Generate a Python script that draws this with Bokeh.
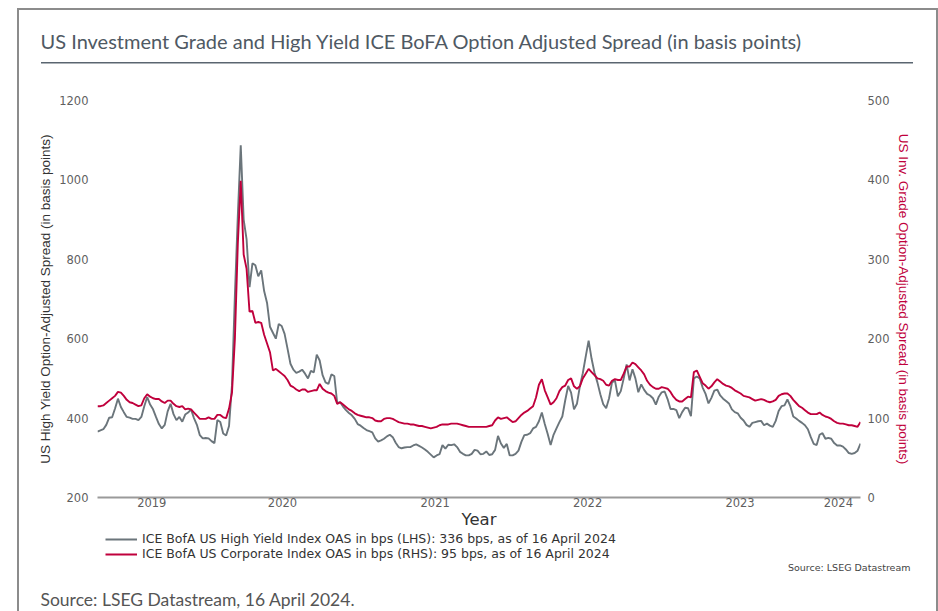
import pandas as pd
from bokeh.plotting import figure
from bokeh.layouts import column, row
from bokeh.models import (Range1d, LinearAxis, FixedTicker, Legend, LegendItem,
                          ColumnDataSource, Label)
from bokeh.embed import file_html
from bokeh.resources import INLINE

# ---------------- data ----------------
start_date = "2019-04-16"   # weekly observations, last one 2024-04-16

hy_oas = [
    366, 369, 372, 383, 401, 402, 424, 449, 428, 415,
    403, 401, 398, 398, 395, 403, 430, 453, 434, 422,
    403, 385, 374, 383, 417, 436, 410, 395, 403, 391,
    409, 414, 422, 400, 383, 357, 349, 350, 349, 342,
    337, 395, 390, 361, 356, 380, 483, 710, 910, 1087,
    900, 850, 730, 790, 785, 757, 772, 720, 690, 630,
    615, 600, 637, 632, 612, 575, 537, 522, 514, 517,
    522, 512, 500, 519, 515, 560, 545, 508, 490, 486,
    510, 506, 438, 440, 429, 420, 413, 407, 398, 385,
    381, 375, 370, 367, 364, 349, 341, 344, 348, 354,
    358, 352, 338, 327, 324, 326, 327, 327, 331, 334,
    330, 326, 321, 315, 308, 301, 306, 309, 332, 323,
    333, 332, 334, 327, 315, 310, 306, 306, 310, 320,
    318, 309, 310, 316, 307, 309, 320, 355, 336, 325,
    335, 306, 306, 310, 318, 340, 357, 358, 362, 374,
    378, 392, 414, 385, 360, 332, 358, 374, 390, 404,
    445, 481, 464, 422, 436, 480, 513, 555, 595, 550,
    515, 490, 460, 435, 425, 450, 490, 495, 455, 468,
    500, 535, 495, 523, 500, 465, 485, 471, 461, 457,
    450, 434, 454, 465, 467, 448, 423, 423, 420, 400,
    415, 426, 425, 405, 500, 505, 500, 477, 461, 437,
    451, 469, 472, 457, 449, 443, 437, 422, 415, 412,
    401, 394, 383, 378, 388, 390, 392, 393, 382, 386,
    381, 378, 393, 418, 430, 432, 447, 430, 404, 399,
    393, 388, 382, 372, 352, 335, 332, 358, 362, 348,
    350, 348, 337, 331, 331, 328, 321, 312, 310, 312,
    318, 336,
]

ig_oas = [
    115, 115, 116, 119, 122, 125, 128, 133, 132, 128,
    123, 120, 119, 117, 115, 116, 125, 130, 127, 125,
    124, 124, 121, 119, 122, 122, 118, 115, 114, 115,
    111, 112, 111, 107, 103, 99, 99, 99, 101, 99,
    99, 104, 104, 101, 100, 112, 132, 200, 320, 399,
    306, 288, 234, 235, 220, 221, 220, 205, 194, 183,
    160, 162, 159, 156, 153, 148, 141, 139, 136, 134,
    136, 136, 133, 134, 135, 135, 143, 137, 134, 132,
    131, 128, 118, 120, 117, 114, 111, 109, 106, 104,
    103, 102, 101, 101, 100, 97, 96, 96, 99, 100,
    100, 99, 97, 95, 94, 93, 93, 92, 92, 91,
    90, 90, 89, 88, 87, 88, 89, 91, 92, 92,
    92, 93, 93, 93, 92, 91, 90, 89, 89, 89,
    89, 89, 89, 89, 90, 91, 97, 101, 99, 100,
    101, 98, 95, 96, 100, 104, 107, 109, 112, 115,
    126, 142, 149, 135, 126, 117, 120, 125, 134, 139,
    141, 148, 150, 140, 137, 140, 150, 156, 162, 158,
    154, 150, 149, 147, 142, 141, 147, 149, 148, 148,
    156, 165, 165, 170, 168, 164, 160, 155, 147, 142,
    139, 137, 137, 139, 138, 137, 133, 127, 123, 121,
    121, 124, 127, 126, 158, 160, 152, 144, 141, 137,
    140, 145, 149, 146, 143, 141, 140, 138, 135, 133,
    131, 128, 127, 126, 124, 122, 123, 124, 123, 121,
    120, 121, 123, 128, 130, 131, 131, 128, 123, 119,
    115, 113, 110, 107, 105, 105, 105, 107, 104, 102,
    101, 99, 96, 94, 93, 93, 92, 91, 91, 90,
    89, 95,
]

year_labels = ["2019", "2020", "2021", "2022", "2023", "2024"]
hy_ticks = [200, 400, 600, 800, 1000, 1200]
ig_ticks = [0, 100, 200, 300, 400, 500]

title_text = "US Investment  Grade and High Yield ICE BoFA Option Adjusted Spread (in basis points)"
hy_axis_title = "US High Yield Option-Adjusted Spread (in basis points)"
ig_axis_title = "US Inv. Grade Option-Adjusted Spread (in basis points)"
x_axis_title = "Year"
hy_legend = "ICE BofA US High Yield Index OAS in bps (LHS): 336 bps, as of 16 April 2024"
ig_legend = "ICE BofA US Corporate Index OAS in bps (RHS): 95 bps, as of 16 April 2024"
small_source = "Source: LSEG Datastream"
footer_source = "Source: LSEG Datastream, 16 April 2024."

# ---------------- styling ----------------
HY_COLOR = "#6b757b"
IG_COLOR = "#c0003c"
TICK_COLOR = "#5f5f5f"
TEXT_COLOR = "#333333"
FRAME_COLOR = "#8c8c8c"
RULE_COLOR = "#5a6570"
W = 938
NAN = float("nan")


def bare(height):
    f = figure(width=W, height=height, x_range=Range1d(0, 1), y_range=Range1d(0, 1),
               output_backend="svg", toolbar_location=None, min_border=0,
               x_axis_location=None, y_axis_location=None)
    f.outline_line_color = None
    f.grid.visible = False
    f.background_fill_color = None
    f.border_fill_color = None
    return f


# ---------- top strip: title ----------
top = bare(75)
top.add_layout(Label(x=40, y=35, x_units="screen", y_units="screen",
                     text=title_text, text_font="Lato", text_font_size="20px",
                     text_color="#4f5963", text_baseline="middle"))

# ---------- main chart ----------
dates = pd.date_range(start_date, periods=len(hy_oas), freq="7D")
src = ColumnDataSource(dict(date=dates, hy=hy_oas, ig=ig_oas))
x0 = dates[0]
x1 = dates[-1]

p = figure(width=W, height=457, x_axis_type="datetime",
           x_range=Range1d(x0.to_pydatetime(), x1.to_pydatetime()),
           y_range=Range1d(hy_ticks[0], hy_ticks[-1]),
           output_backend="svg", toolbar_location=None,
           min_border_left=97, min_border_right=78,
           min_border_top=25, min_border_bottom=35)
p.extra_y_ranges = {"ig": Range1d(ig_ticks[0], ig_ticks[-1])}
p.outline_line_color = None
p.xgrid.visible = False
p.ygrid.visible = False
p.background_fill_color = "white"
p.border_fill_color = None

r_hy = p.line("date", "hy", source=src, line_color=HY_COLOR, line_width=1.9)
r_ig = p.line("date", "ig", source=src, line_color=IG_COLOR, line_width=1.9,
              y_range_name="ig")

# x axis: one label centred on the visible part of each year
tick_ms = []
for y in year_labels:
    a = max(pd.Timestamp(f"{y}-01-01"), x0)
    b = min(pd.Timestamp(f"{int(y) + 1}-01-01"), x1)
    mid = a + (b - a) / 2
    tick_ms.append(int(mid.value // 10**6))
xa = p.xaxis[0]
xa.ticker = FixedTicker(ticks=tick_ms)
xa.major_label_overrides = {t: lab for t, lab in zip(tick_ms, year_labels)}
xa.axis_label = x_axis_title
xa.axis_line_color = "#9a9a9a"
xa.axis_line_width = 2
xa.major_tick_line_color = None
xa.minor_tick_line_color = None
xa.major_tick_out = 0
xa.major_tick_in = 0
xa.major_label_standoff = 0
xa.major_label_text_font = "DejaVu Sans"
xa.major_label_text_font_size = "11.5px"
xa.major_label_text_color = TICK_COLOR
xa.axis_label_text_font = "DejaVu Sans"
xa.axis_label_text_font_size = "16.5px"
xa.axis_label_text_font_style = "normal"
xa.axis_label_text_color = TEXT_COLOR
xa.axis_label_standoff = 0

ya = p.yaxis[0]
ya.ticker = FixedTicker(ticks=hy_ticks)
ya.axis_label = hy_axis_title
ya.axis_line_color = None
ya.major_tick_line_color = None
ya.minor_tick_line_color = None
ya.major_tick_out = 0
ya.major_tick_in = 0
ya.major_label_standoff = 9
ya.major_label_text_font = "DejaVu Sans"
ya.major_label_text_font_size = "11.5px"
ya.major_label_text_color = TICK_COLOR
ya.axis_label_text_font = "Liberation Sans"
ya.axis_label_text_font_size = "13.5px"
ya.axis_label_text_font_style = "normal"
ya.axis_label_text_color = TEXT_COLOR
ya.axis_label_standoff = 3

ra = LinearAxis(y_range_name="ig", ticker=FixedTicker(ticks=ig_ticks),
                axis_label=ig_axis_title)
ra.axis_line_color = None
ra.major_tick_line_color = None
ra.minor_tick_line_color = None
ra.major_tick_out = 0
ra.major_tick_in = 0
ra.major_label_standoff = 7
ra.major_label_text_font = "DejaVu Sans"
ra.major_label_text_font_size = "11.5px"
ra.major_label_text_color = TICK_COLOR
ra.axis_label_text_font = "Liberation Sans"
ra.axis_label_text_font_size = "13.5px"
ra.axis_label_text_font_style = "normal"
ra.axis_label_text_color = IG_COLOR
ra.axis_label_standoff = 4
p.add_layout(ra, "right")

# ---------- bottom strip: legend and sources ----------
bot = bare(79)
k_hy = bot.line(x=[NAN], y=[NAN], line_color=HY_COLOR, line_width=1.8)
k_ig = bot.line(x=[NAN], y=[NAN], line_color=IG_COLOR, line_width=1.8)
legend = Legend(items=[LegendItem(label=hy_legend, renderers=[k_hy]),
                       LegendItem(label=ig_legend, renderers=[k_ig])],
                location=(105, 50), orientation="vertical",
                glyph_width=32, glyph_height=12, label_height=12,
                label_standoff=5, spacing=-2, padding=0, margin=0,
                label_text_font="DejaVu Sans", label_text_font_size="12.5px",
                label_text_color=TEXT_COLOR, border_line_color=None,
                background_fill_alpha=0)
bot.add_layout(legend)
bot.add_layout(Label(x=910, y=44, x_units="screen", y_units="screen",
                     text=small_source, text_font="DejaVu Sans",
                     text_font_size="9.5px", text_color="#444444",
                     text_baseline="middle", text_align="right"))
bot.add_layout(Label(x=40, y=12, x_units="screen", y_units="screen",
                     text=footer_source, text_font="Lato",
                     text_font_size="17.5px", text_color="#555555",
                     text_baseline="middle"))

# decorative box round the whole graphic and the rule under the title (CSS)
grad_f = f"linear-gradient({FRAME_COLOR}, {FRAME_COLOR})"
grad_r = f"linear-gradient({RULE_COLOR}, {RULE_COLOR})"
deco = {
    "background-color": "white",
    "background-image": ", ".join([grad_f, grad_f, grad_f, grad_r]),
    "background-position": "17px 8px, 17px 8px, 936px 8px, 41px 62px",
    "background-size": "2px 603px, 921px 2px, 2px 603px, 872px 1.5px",
    "background-repeat": "no-repeat",
}

page = column(row(top), p, row(bot), spacing=0, styles=deco)

open("out.html", "w").write(file_html(page, INLINE))
